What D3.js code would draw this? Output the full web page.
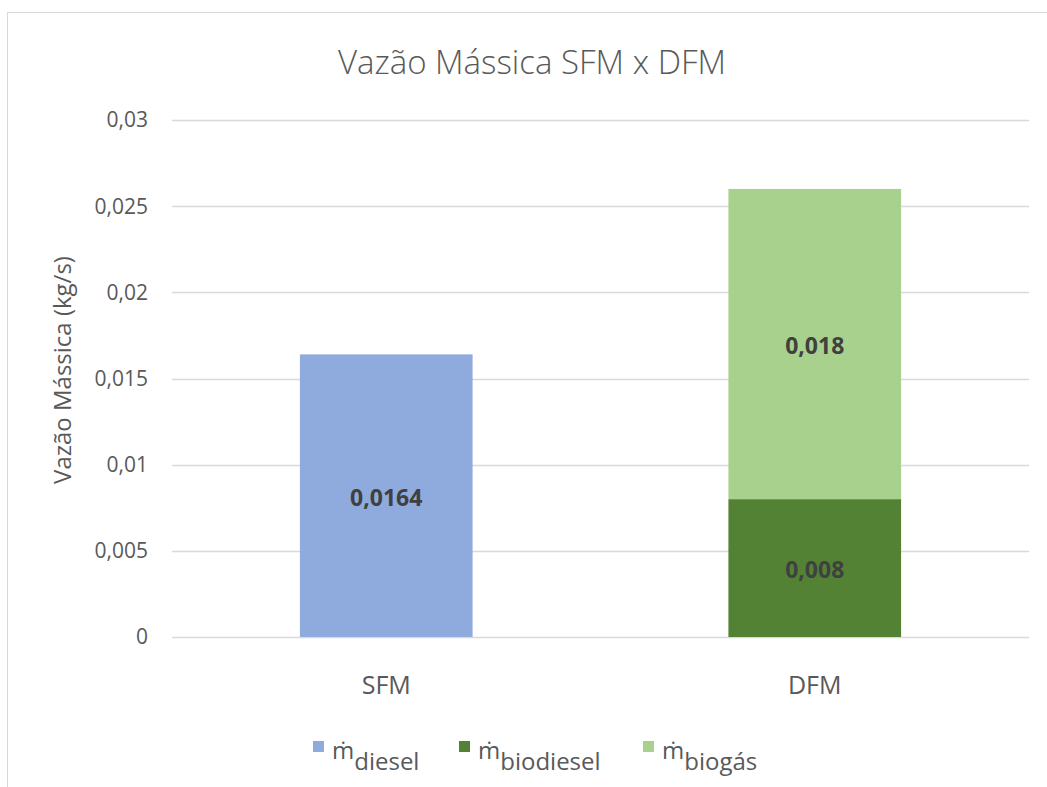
<!DOCTYPE html>
<html>
<head>
<meta charset="utf-8">
<script src="https://cdn.jsdelivr.net/npm/d3@7"></script>
<style>
  body { margin: 0; background: #fff; }
  text { font-family: "Open Sans", "Noto Sans", sans-serif; }
</style>
</head>
<body>
<script>
const width = 1047;
const height = 787;

// data
const categories = ['SFM', 'DFM'];
const seriesNames = ['diesel', 'biodiesel', 'biogás'];
const dieselValues = [0.0164, 0];
const biodieselValues = [0, 0.008];
const biogasValues = [0, 0.018];
const seriesColors = ['#8faadc', '#548235', '#a9d18e'];
const tickValues = [0, 0.005, 0.01, 0.015, 0.02, 0.025, 0.03];

const margin = { top: 120, right: 18, bottom: 150, left: 172 };

const svg = d3.select('body').append('svg')
  .attr('width', width)
  .attr('height', height);

// chart frame
svg.append('rect')
  .attr('x', 7.5).attr('y', 12.5)
  .attr('width', width + 20).attr('height', height + 20)
  .attr('fill', '#fff')
  .attr('stroke', '#d9d9d9');

const x = d3.scaleBand()
  .domain(categories)
  .range([margin.left, width - margin.right])
  .padding(0);

const y = d3.scaleLinear()
  .domain([0, 0.03])
  .range([height - margin.bottom, margin.top]);

const fmt = v => String(v).replace('.', ',');

// gridlines
svg.append('g')
  .selectAll('line')
  .data(tickValues)
  .enter().append('line')
  .attr('x1', margin.left).attr('x2', width - margin.right)
  .attr('y1', d => Math.round(y(d)) + 0.5)
  .attr('y2', d => Math.round(y(d)) + 0.5)
  .attr('stroke', '#d9d9d9')
  .attr('stroke-width', 1.3);

// y tick labels
svg.append('g')
  .selectAll('text')
  .data(tickValues)
  .enter().append('text')
  .attr('x', 148)
  .attr('y', d => y(d))
  .attr('dy', '0.35em')
  .attr('text-anchor', 'end')
  .attr('fill', '#595959')
  .style('font-size', '21px')
  .text(d => fmt(d));

// stacked bars
const table = categories.map((c, i) => ({
  category: c,
  diesel: dieselValues[i],
  biodiesel: biodieselValues[i],
  'biogás': biogasValues[i]
}));
const stack = d3.stack().keys(seriesNames);
const layers = stack(table);

const barWidth = x.bandwidth() * 0.403;

layers.forEach((layer, li) => {
  const g = svg.append('g');
  layer.forEach(d => {
    const v = d[1] - d[0];
    if (v <= 0) return;
    const cx = x(d.data.category) + x.bandwidth() / 2;
    g.append('rect')
      .attr('x', cx - barWidth / 2)
      .attr('y', y(d[1]))
      .attr('width', barWidth)
      .attr('height', y(d[0]) - y(d[1]))
      .attr('fill', seriesColors[li]);
    g.append('text')
      .attr('x', cx)
      .attr('y', (y(d[0]) + y(d[1])) / 2 + 2)
      .attr('dy', '0.35em')
      .attr('text-anchor', 'middle')
      .attr('fill', '#404040')
      .style('font-size', '23px')
      .style('font-weight', 'bold')
      .text(fmt(v));
  });
});

// category labels
svg.append('g')
  .selectAll('text')
  .data(categories)
  .enter().append('text')
  .attr('x', d => x(d) + x.bandwidth() / 2)
  .attr('y', 685)
  .attr('dy', '0.35em')
  .attr('text-anchor', 'middle')
  .attr('fill', '#595959')
  .style('font-size', '25px')
  .text(d => d);

// title
svg.append('text')
  .attr('x', 532)
  .attr('y', 62)
  .attr('dy', '0.35em')
  .attr('text-anchor', 'middle')
  .attr('fill', '#595959')
  .style('font-size', '33px')
  .style('font-weight', 300)
  .text('Vazão Mássica SFM x DFM');

// y axis title
svg.append('text')
  .attr('transform', 'translate(63,370) rotate(-90)')
  .attr('dy', '0.35em')
  .attr('text-anchor', 'middle')
  .attr('fill', '#595959')
  .style('font-size', '24px')
  .text('Vazão Mássica (kg/s)');

// legend
const legendX = [313, 459, 643];
const legend = svg.append('g');
seriesNames.forEach((name, i) => {
  const g = legend.append('g').attr('transform', `translate(${legendX[i]},741)`);
  g.append('rect')
    .attr('width', 11).attr('height', 11)
    .attr('fill', seriesColors[i]);
  const t = g.append('text')
    .attr('x', 19)
    .attr('y', 18)
    .attr('fill', '#595959')
    .style('font-size', '24px');
  t.append('tspan').text('ṁ');
  t.append('tspan').attr('dy', 11).text(name);
});
</script>
</body>
</html>
